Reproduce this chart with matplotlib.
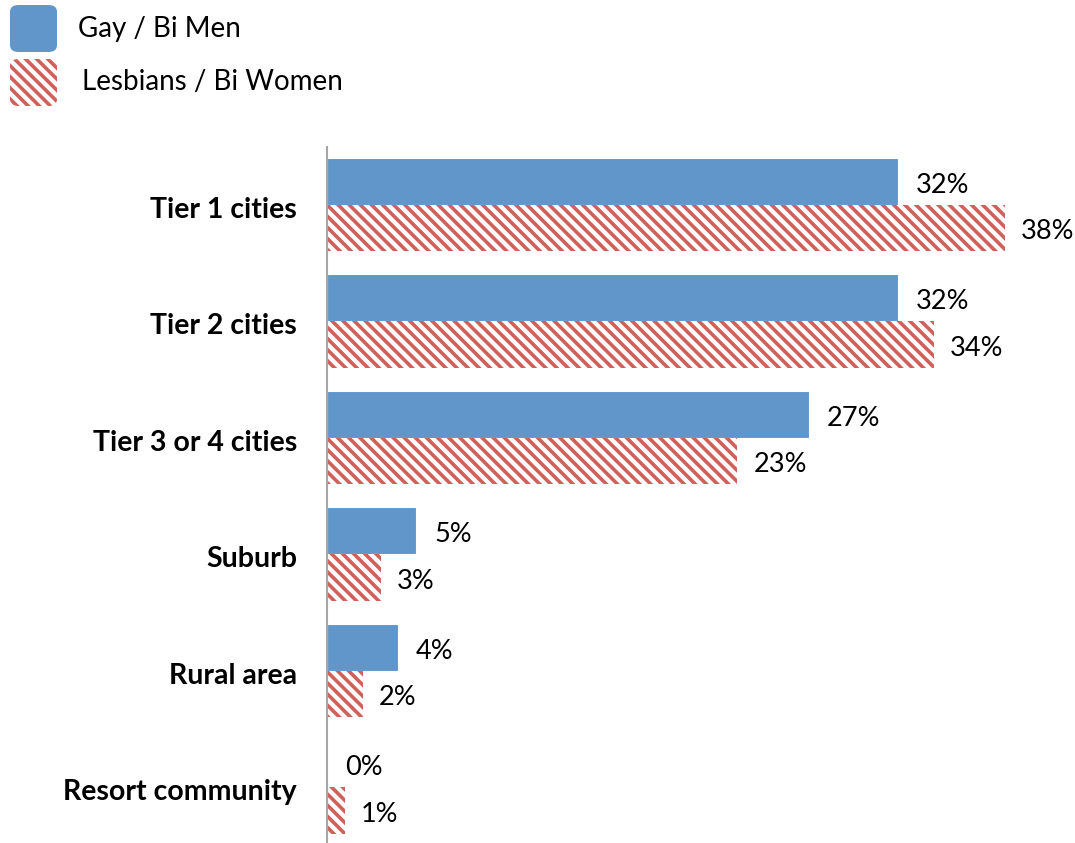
import numpy as np
import matplotlib.pyplot as plt
import matplotlib.transforms as mtransforms
from matplotlib.patches import FancyBboxPatch

plt.rcParams['font.family'] = ['Lato', 'DejaVu Sans']
plt.rcParams['hatch.linewidth'] = 2.6

categories = ['Tier 1 cities', 'Tier 2 cities', 'Tier 3 or 4 cities', 'Suburb', 'Rural area', 'Resort community']
men = [32, 32, 27, 5, 4, 0]
women = [38, 34, 23, 3, 2, 1]
series_names = ['Gay / Bi Men', 'Lesbians / Bi Women']

blue = '#6096C9'
red = '#D0605A'

W, H = 1075, 843
fig = plt.figure(figsize=(W / 100, H / 100), dpi=100)
# axes in pixel coordinates: x 327..1070, y 147..843
ax = fig.add_axes([327 / W, 0 / H, (1070 - 327) / W, (843 - 147) / H])

# texts sit a few pixels lower than the bar centres in the original
shift = mtransforms.ScaledTranslation(0, -4 / 100, fig.dpi_scale_trans)
lab_shift = mtransforms.ScaledTranslation(-30 / 100, -5 / 100, fig.dpi_scale_trans)

y = np.arange(len(categories))
bh = 0.4
ax.barh(y - bh / 2, men, height=bh, color=blue, edgecolor='white', linewidth=0.8)
ax.barh(y + bh / 2, women, height=bh, color='white', edgecolor=red, hatch='\\\\\\', linewidth=0)

for i in range(len(categories)):
    ax.text(men[i] + 1.0, y[i] - bh / 2, f'{men[i]}%', va='center', ha='left', fontsize=19.5,
            transform=ax.transData + shift)
    ax.text(women[i] + 0.9, y[i] + bh / 2, f'{women[i]}%', va='center', ha='left', fontsize=19.5,
            transform=ax.transData + shift)

# category labels (done as text so they can be nudged down like the original)
lab_trans = mtransforms.blended_transform_factory(ax.transAxes, ax.transData) + lab_shift
for i, c in enumerate(categories):
    ax.text(0, y[i], c, ha='right', va='center', fontsize=20.5, fontweight='bold',
            transform=lab_trans)

ax.set_xlim(0, (1070 - 327) / 17.84)
ax.set_ylim(5.48, -0.494)
ax.set_yticks([])
ax.set_xticks([])
for s in ['top', 'right', 'bottom']:
    ax.spines[s].set_visible(False)
ax.spines['left'].set_color('#A6A6A6')
ax.spines['left'].set_linewidth(1.5)

# legend drawn by hand: rounded swatches + labels (pixel positions from top-left)
def px(x, yy):
    return x / W, 1 - yy / H

sw = 47
for k, (name, top, tx) in enumerate(zip(series_names, [5, 59], [78, 82])):
    x0, y0 = px(10, top + sw)
    if k == 0:
        box = FancyBboxPatch((x0, y0), sw / W, sw / H, boxstyle='round,pad=0,rounding_size=0.008',
                             transform=fig.transFigure, facecolor=blue, edgecolor='none')
    else:
        box = FancyBboxPatch((x0, y0), sw / W, sw / H, boxstyle='round,pad=0,rounding_size=0.008',
                             transform=fig.transFigure, facecolor='white', edgecolor=red,
                             hatch='\\\\\\', linewidth=0)
    fig.patches.append(box)
    tx_f, ty_f = px(tx, top + sw / 2)
    fig.text(tx_f, ty_f, name, fontsize=20, va='center', ha='left')

fig.savefig('out.png', dpi=100)
